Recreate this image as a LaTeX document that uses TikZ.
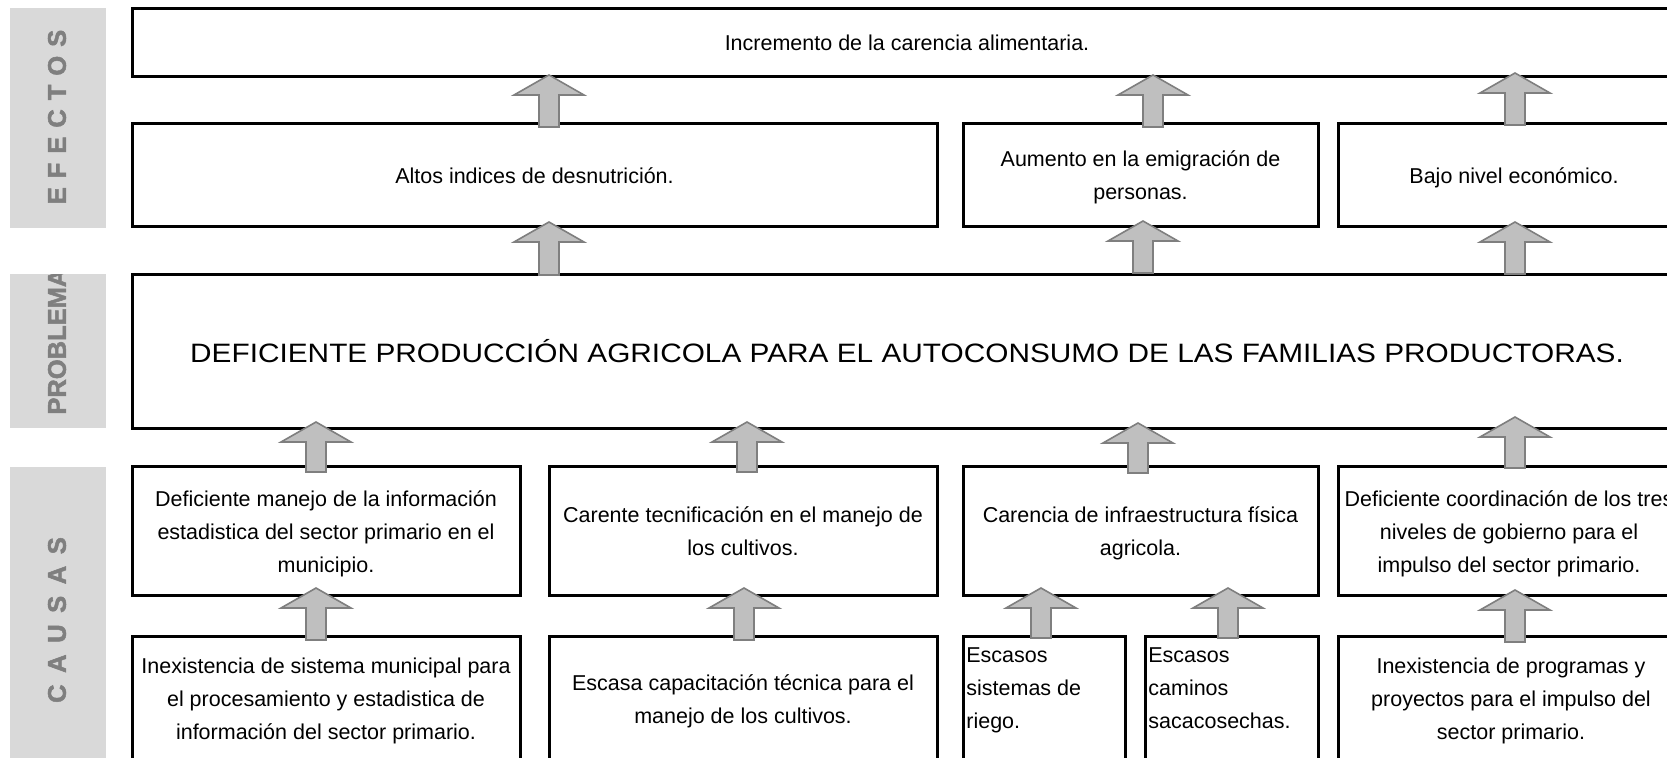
\documentclass[tikz,border=0pt]{standalone}
\usepackage{fontspec}
\setmainfont{Liberation Sans}
\newfontfamily\titlefont[FakeStretch=1.12]{Liberation Sans}
\newfontfamily\sidefont[FakeBold=2]{Liberation Sans Bold}
\definecolor{sidegray}{HTML}{D9D9D9}
\definecolor{labelgray}{HTML}{7F7F7F}
\definecolor{arrfill}{HTML}{BFBFBF}
\definecolor{arrdraw}{HTML}{7F7F7F}
\newcommand{\sa}{\rule{0pt}{11pt}}
\newcommand{\sz}{\rule[-2.5pt]{0pt}{2.5pt}}
\newcommand{\uparr}[3]{\filldraw[blockarr] ({#1-10},#3) -- ({#1-10},{#2+20}) -- ({#1-35},{#2+20}) -- (#1,#2) -- ({#1+35},{#2+20}) -- ({#1+10},{#2+20}) -- ({#1+10},#3) -- cycle;}
\newcommand{\mybox}[6]{\node[box,minimum width={(#4-#2)*0.5pt},minimum height={(#5-#3)*0.5pt}] (#1) at ({(#2+#4)/2},{(#3+#5)/2}) {\sa #6\sz};}
\begin{document}
\begin{tikzpicture}[x=0.5pt,y=-0.5pt,
  boxbase/.style={draw=black,line width=1.5pt,fill=white,inner sep=0pt,align=center},
  box/.style={boxbase,font=\fontsize{10.75pt}{16.5pt}\selectfont},
  txt/.style={font=\fontsize{10.75pt}{16.5pt}\selectfont,inner sep=0pt},
  side/.style={fill=sidegray,draw=none},
  sidetxt/.style={text=labelgray,font=\sidefont\fontsize{12.75pt}{14pt}\selectfont,rotate=90,inner sep=0pt},
  blockarr/.style={fill=arrfill,draw=arrdraw,line width=0.8pt,line join=miter}]
\useasboundingbox (0,0) rectangle (1667,757);
\fill[white] (0,0) rectangle (1667,757);
\clip (0,0) rectangle (1667,757);
% side labels
\fill[side] (10,8) rectangle (106,228);
\fill[side] (10,274) rectangle (106,428);
\fill[side] (10,467) rectangle (106,760);
\node[sidetxt] (lEfectos) at (57,117) {E\kern4.5pt F\kern4.5pt E\kern4.5pt C\kern4.5pt T\kern4.5pt O\kern4.5pt S};
\node[sidetxt] (lCausas) at (57,620) {C\kern5.8pt A\kern5.8pt U\kern5.8pt S\kern5.8pt A\kern5.8pt S};
\begin{scope}
\clip (10,274) rectangle (106,428);
\node[sidetxt,anchor=west] (lProblema) at (57,415) {PROBLEMA};
\end{scope}
% boxes
\mybox{top}{132}{8}{1682}{76}{Incremento de la carencia alimentaria.}
\mybox{efA}{132}{123}{937}{226}{Altos indices de desnutrición.}
\mybox{efB}{963}{123}{1318}{226}{Aumento en la emigración de\\personas.}
\mybox{efC}{1338}{123}{1690}{226}{Bajo nivel económico.}
\node[boxbase,minimum width={1550*0.5pt},minimum height={154*0.5pt},
  font=\titlefont\fontsize{13.3pt}{15pt}\selectfont] (prob) at (907,351)
  {DEFICIENTE PRODUCCIÓN AGRICOLA PARA EL AUTOCONSUMO DE LAS FAMILIAS PRODUCTORAS.};
\mybox{caA}{132}{466}{520}{595}{Deficiente manejo de la información\\estadistica del sector primario en el\\municipio.}
\mybox{caB}{549}{466}{937}{595}{Carente tecnificación en el manejo de\\los cultivos.}
\mybox{caC}{963}{466}{1318}{595}{Carencia de infraestructura física\\agricola.}
\mybox{caD}{1338}{466}{1680}{595}{Deficiente coordinación de los tres\\niveles de gobierno para el\\impulso del sector primario.}
\mybox{cbA}{132}{636}{520}{760}{Inexistencia de sistema municipal para\\el procesamiento y estadistica de\\información del sector primario.}
\mybox{cbB}{549}{636}{937}{760}{Escasa capacitación técnica para el\\manejo de los cultivos.}
\mybox{cbC}{963}{636}{1125}{760}{}
\mybox{cbD}{1145}{636}{1318}{760}{}
\mybox{cbE}{1338}{636}{1684}{760}{Inexistencia de programas y\\proyectos para el impulso del\\sector primario.}
\node[txt,anchor=north west,align=left] (tRiego) at (966,647) {Escasos\\sistemas de\\riego.};
\node[txt,anchor=north west,align=left] (tCaminos) at (1148,647) {Escasos\\caminos\\sacacosechas.};
% arrows
\uparr{549}{75}{127}
\uparr{1153}{75}{127}
\uparr{1515}{73}{125}
\uparr{549}{222}{275}
\uparr{1143}{221}{273}
\uparr{1515}{222}{274}
\uparr{316}{422}{472}
\uparr{747}{422}{472}
\uparr{1138}{423}{473}
\uparr{1515}{417}{468}
\uparr{316}{588}{640}
\uparr{744}{588}{640}
\uparr{1041}{588}{638}
\uparr{1228}{588}{638}
\uparr{1515}{590}{642}
\end{tikzpicture}
\end{document}
